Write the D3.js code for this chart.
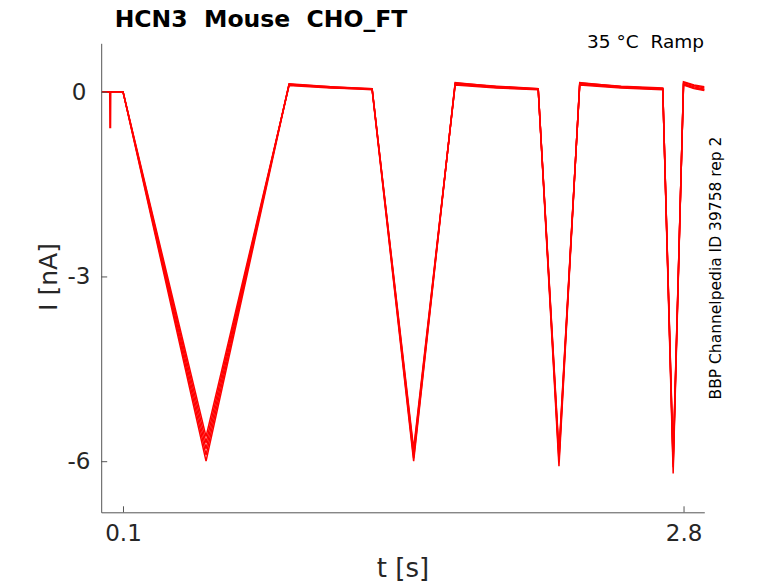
<!DOCTYPE html>
<html><head><meta charset="utf-8">
<script src="https://cdn.jsdelivr.net/npm/d3@7"></script>
<style>body{margin:0;background:#fff;} text{font-family:"DejaVu Sans",sans-serif; white-space:pre;}</style>
</head><body>
<script>
// breakpoint times (s)
const times = [0, 0.036, 0.037, 0.040, 0.041, 0.1, 0.5, 0.9, 1.1, 1.3, 1.5, 1.7, 1.9, 2.1, 2.2, 2.3, 2.5, 2.7, 2.75, 2.8, 2.85, 2.9];
// current traces (nA) at the breakpoint times, one per repetition
const traceA = [0, 0, -0.58, -0.58, 0, 0, -6.00, 0.12, 0.07, 0.03, -6.00, 0.15, 0.08, 0.04, -6.08, 0.15, 0.08, 0.05, -6.20, 0.16, 0.11, 0.08];
const traceB = [0, 0, 0, 0, 0, 0, -5.90, 0.13, 0.08, 0.04, -5.95, 0.14, 0.09, 0.05, -6.00, 0.14, 0.09, 0.06, -6.10, 0.15, 0.10, 0.06];
const traceC = [0, 0, 0, 0, 0, 0, -5.80, 0.12, 0.08, 0.05, -5.90, 0.13, 0.08, 0.05, -5.95, 0.13, 0.08, 0.05, -6.05, 0.13, 0.08, 0.04];
const traceD = [0, 0, 0, 0, 0, 0, -5.70, 0.11, 0.07, 0.05, -5.85, 0.12, 0.07, 0.04, -5.90, 0.12, 0.07, 0.04, -6.00, 0.12, 0.06, 0.03];
const traceE = [0, 0, 0, 0, 0, 0, -5.60, 0.10, 0.06, 0.04, -5.80, 0.11, 0.06, 0.03, -5.85, 0.11, 0.06, 0.03, -5.95, 0.11, 0.05, 0.02];
const traces = [traceE, traceD, traceC, traceB, traceA];
const xTicks = [0.1, 2.8];
const yTicks = [0, -3, -6];
const xDomain = [-0.005, 2.9];
const yDomain = [-6.83, 0.786];

const W = 778, H = 583;
const svg = d3.select("body").append("svg").attr("width", W).attr("height", H);
const mLeft = 101.2, mRight = 704.3, mTop = 43.3, mBottom = 512.3;
const x = d3.scaleLinear().domain(xDomain).range([mLeft, mRight]);
const y = d3.scaleLinear().domain(yDomain).range([mBottom, mTop]);
const axisColor = "#555";

// traces
const line = d3.line().x(d => x(d[0])).y(d => y(d[1]));
svg.append("g").selectAll("path").data(traces).join("path")
  .attr("d", tr => line(times.map((t, i) => [t, tr[i]])))
  .attr("fill", "none").attr("stroke", "#ff0000").attr("stroke-width", 1.5)
  .attr("stroke-linejoin", "miter");

// axes
const xAxis = svg.append("g").attr("transform", `translate(0,${mBottom})`)
  .call(d3.axisBottom(x).tickValues(xTicks).tickFormat(d3.format(".1f")).tickSizeInner(-6).tickSizeOuter(0).tickPadding(12));
const yAxis = svg.append("g").attr("transform", `translate(${mLeft},0)`)
  .call(d3.axisLeft(y).tickValues(yTicks).tickFormat(d => d === 0 ? "0" : "-" + Math.abs(d)).tickSizeInner(-6).tickSizeOuter(0).tickPadding(14));
[xAxis, yAxis].forEach(a => {
  a.select(".domain").attr("stroke", axisColor);
  a.selectAll(".tick line").attr("stroke", axisColor);
  a.selectAll(".tick text").attr("fill", "#262626").style("font-size", "23px").style("font-family", "DejaVu Sans, sans-serif");
});
xAxis.selectAll(".tick text").attr("dy", "0.71em");
yAxis.selectAll(".tick text").attr("text-anchor", "middle").attr("x", 79 - mLeft);

// labels
svg.append("text").attr("x", 403).attr("y", 577).attr("text-anchor", "middle")
  .style("font-size", "26px").attr("fill", "#262626").text("t [s]");
svg.append("text").attr("transform", "translate(57,277) rotate(-90)").attr("text-anchor", "middle")
  .style("font-size", "25px").attr("fill", "#262626").text("I [nA]");
svg.append("text").attr("x", 261).attr("y", 27).attr("text-anchor", "middle")
  .style("font-size", "23.5px").style("font-weight", "bold").attr("fill", "#000").text("HCN3  Mouse  CHO_FT");
svg.append("text").attr("x", 704).attr("y", 48).attr("text-anchor", "end")
  .style("font-size", "18.5px").attr("fill", "#000").text("35 °C  Ramp");
svg.append("text").attr("transform", "translate(721,268) rotate(-90)").attr("text-anchor", "middle")
  .style("font-size", "15.5px").attr("fill", "#000").text("BBP Channelpedia ID 39758 rep 2");
</script>
</body></html>
